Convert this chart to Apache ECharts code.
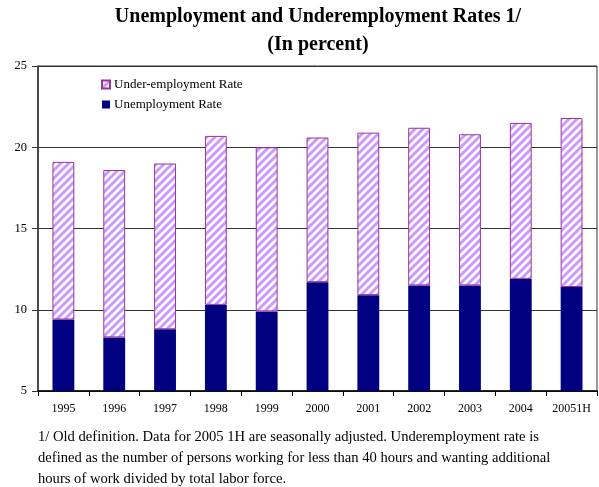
<!DOCTYPE html>
<html>
<head>
<meta charset="utf-8">
<script src="https://cdn.jsdelivr.net/npm/echarts@6/dist/echarts.min.js"></script>
<style>
  html, body { margin: 0; padding: 0; background: #fff; }
  #chart { width: 599px; height: 487px; }
</style>
</head>
<body>
<div id="chart"></div>
<script>
// data
const years = ['1995', '1996', '1997', '1998', '1999', '2000', '2001', '2002', '2003', '2004', '20051H']
const unemployment = [9.4, 8.3, 8.8, 10.3, 9.9, 11.7, 10.9, 11.5, 11.5, 11.9, 11.4]
const underemployment = [9.7, 10.3, 10.2, 10.4, 10.1, 8.9, 10.0, 9.7, 9.3, 9.6, 10.4]
const yTicks = [5, 10, 15, 20, 25]

const serif = '"Liberation Serif", "DejaVu Serif", serif'

// diagonal hatch fill for the under-employment bars
function makeHatch() {
  const c = document.createElement('canvas')
  c.width = 8
  c.height = 8
  const g = c.getContext('2d')
  g.fillStyle = '#ffffff'
  g.fillRect(0, 0, 8, 8)
  g.strokeStyle = '#cc99ff'
  g.lineWidth = 3
  g.beginPath()
  g.moveTo(-2, 10); g.lineTo(10, -2)
  g.moveTo(-6, 6); g.lineTo(6, -6)
  g.moveTo(2, 14); g.lineTo(14, 2)
  g.stroke()
  return c
}
const hatch = { image: makeHatch(), repeat: 'repeat' }

const chart = echarts.init(document.getElementById('chart'))
chart.setOption({
  animation: false,
  title: {
    text: 'Unemployment and Underemployment Rates 1/\n(In percent)',
    left: 313,
    textAlign: 'center',
    top: -2,
    textStyle: { fontFamily: serif, fontSize: 20, fontWeight: 'bold', color: '#000', lineHeight: 28 }
  },
  legend: {
    orient: 'vertical',
    left: 96,
    top: 73,
    itemWidth: 8,
    itemHeight: 8,
    itemGap: 7,
    icon: 'rect',
    data: ['Under-employment Rate', 'Unemployment Rate'],
    textStyle: { fontFamily: serif, fontSize: 13, color: '#000', padding: [0, 0, 0, -1] }
  },
  grid: {
    left: 38, right: 2, top: 66, bottom: 96,
    show: true, borderColor: '#333', borderWidth: 1
  },
  xAxis: {
    type: 'category',
    data: years,
    axisLine: { lineStyle: { color: '#000', width: 1.5 } },
    axisTick: { show: true, length: 5, lineStyle: { color: '#000' } },
    axisLabel: { fontFamily: serif, fontSize: 12, color: '#000', margin: 12 }
  },
  yAxis: {
    type: 'value',
    min: yTicks[0],
    max: yTicks[yTicks.length - 1],
    interval: 5,
    axisLine: { show: true, lineStyle: { color: '#333', width: 1.5 } },
    axisTick: { show: true, length: 6, lineStyle: { color: '#333' } },
    axisLabel: { fontFamily: serif, fontSize: 12.5, color: '#000', margin: 11 },
    splitLine: { lineStyle: { color: '#333', width: 1 } }
  },
  series: [
    {
      name: 'Unemployment Rate',
      type: 'bar',
      stack: 'rate',
      barWidth: '43%',
      data: unemployment,
      itemStyle: { color: '#000080' }
    },
    {
      name: 'Under-employment Rate',
      type: 'bar',
      stack: 'rate',
      barWidth: '43%',
      data: underemployment,
      itemStyle: { color: hatch, borderColor: '#993399', borderWidth: 1 }
    }
  ],
  graphic: [
    {
      type: 'text',
      left: 38,
      top: 427,
      style: {
        text: '1/ Old definition. Data for 2005 1H are seasonally adjusted. Underemployment rate is\n' +
              'defined as the number of persons working for less than 40 hours and wanting additional\n' +
              'hours of work divided by total labor force.',
        font: '14.6px ' + serif,
        lineHeight: 21,
        fill: '#000'
      }
    }
  ]
})
</script>
</body>
</html>
